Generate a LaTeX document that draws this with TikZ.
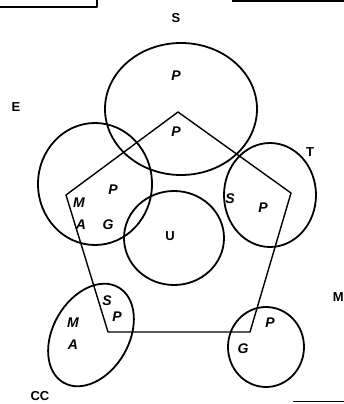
\documentclass[tikz,border=0pt]{standalone}
\usepackage{fontspec}
\setmainfont{Liberation Sans}
\begin{document}
\begin{tikzpicture}[x=1pt,y=-1pt,line width=1.8pt,line join=round,
  lab/.style={font=\fontsize{13}{13}\selectfont\bfseries,inner sep=0pt},
  ilab/.style={font=\fontsize{14}{14}\selectfont\bfseries\itshape,inner sep=0pt}]
\useasboundingbox (0,0) rectangle (343,404);
% fragments of neighbouring figures
\draw (0,7) -- (97,7) -- (97,-2);
\draw (232,1) -- (345,1);
\draw (293,401.5) -- (345,401.5);
% circles
\draw (181,109) ellipse [x radius=76pt,y radius=66pt];
\draw (95,184) ellipse [x radius=57pt,y radius=61pt];
\draw (270,195) ellipse [x radius=46pt,y radius=52pt];
\draw (174,238) ellipse [x radius=50pt,y radius=47pt];
\draw[rotate around={60:(91,335)}] (91,335) ellipse [x radius=55pt,y radius=38pt];
\draw (266,347) ellipse [x radius=38pt,y radius=40pt];
% pentagon
\coordinate (v1) at (178,112);
\coordinate (v2) at (291,193);
\coordinate (v3) at (250,332);
\coordinate (v4) at (108,332);
\coordinate (v5) at (66,195);
\draw[line width=1.4pt] (v1) -- (v2) -- (v3) -- (v4) -- (v5) -- cycle;
% outer labels
\node[lab] (lS) at (176,18) {S};
\node[lab] (lE) at (16,107) {E};
\node[lab] (lT) at (310,152) {T};
\node[lab] (lU) at (170,236) {U};
\node[lab] (lCC) at (40,396) {CC};
\node[lab,anchor=west] (lM) at (332,297) {M};
% inner labels
\node[ilab] (p1) at (176,76) {P};
\node[ilab] (p2) at (176,132) {P};
\node[ilab] (eM) at (79,203) {M};
\node[ilab] (eA) at (81,225) {A};
\node[ilab] (eP) at (113,190) {P};
\node[ilab] (eG) at (108,225) {G};
\node[ilab] (tS) at (230,199) {S};
\node[ilab] (tP) at (263,208) {P};
\node[ilab] (cS) at (107,301) {S};
\node[ilab] (cP) at (117,317) {P};
\node[ilab] (cM) at (73,323) {M};
\node[ilab] (cA) at (73,345) {A};
\node[ilab] (gP) at (270,323) {P};
\node[ilab] (gG) at (243,349) {G};
\end{tikzpicture}
\end{document}
